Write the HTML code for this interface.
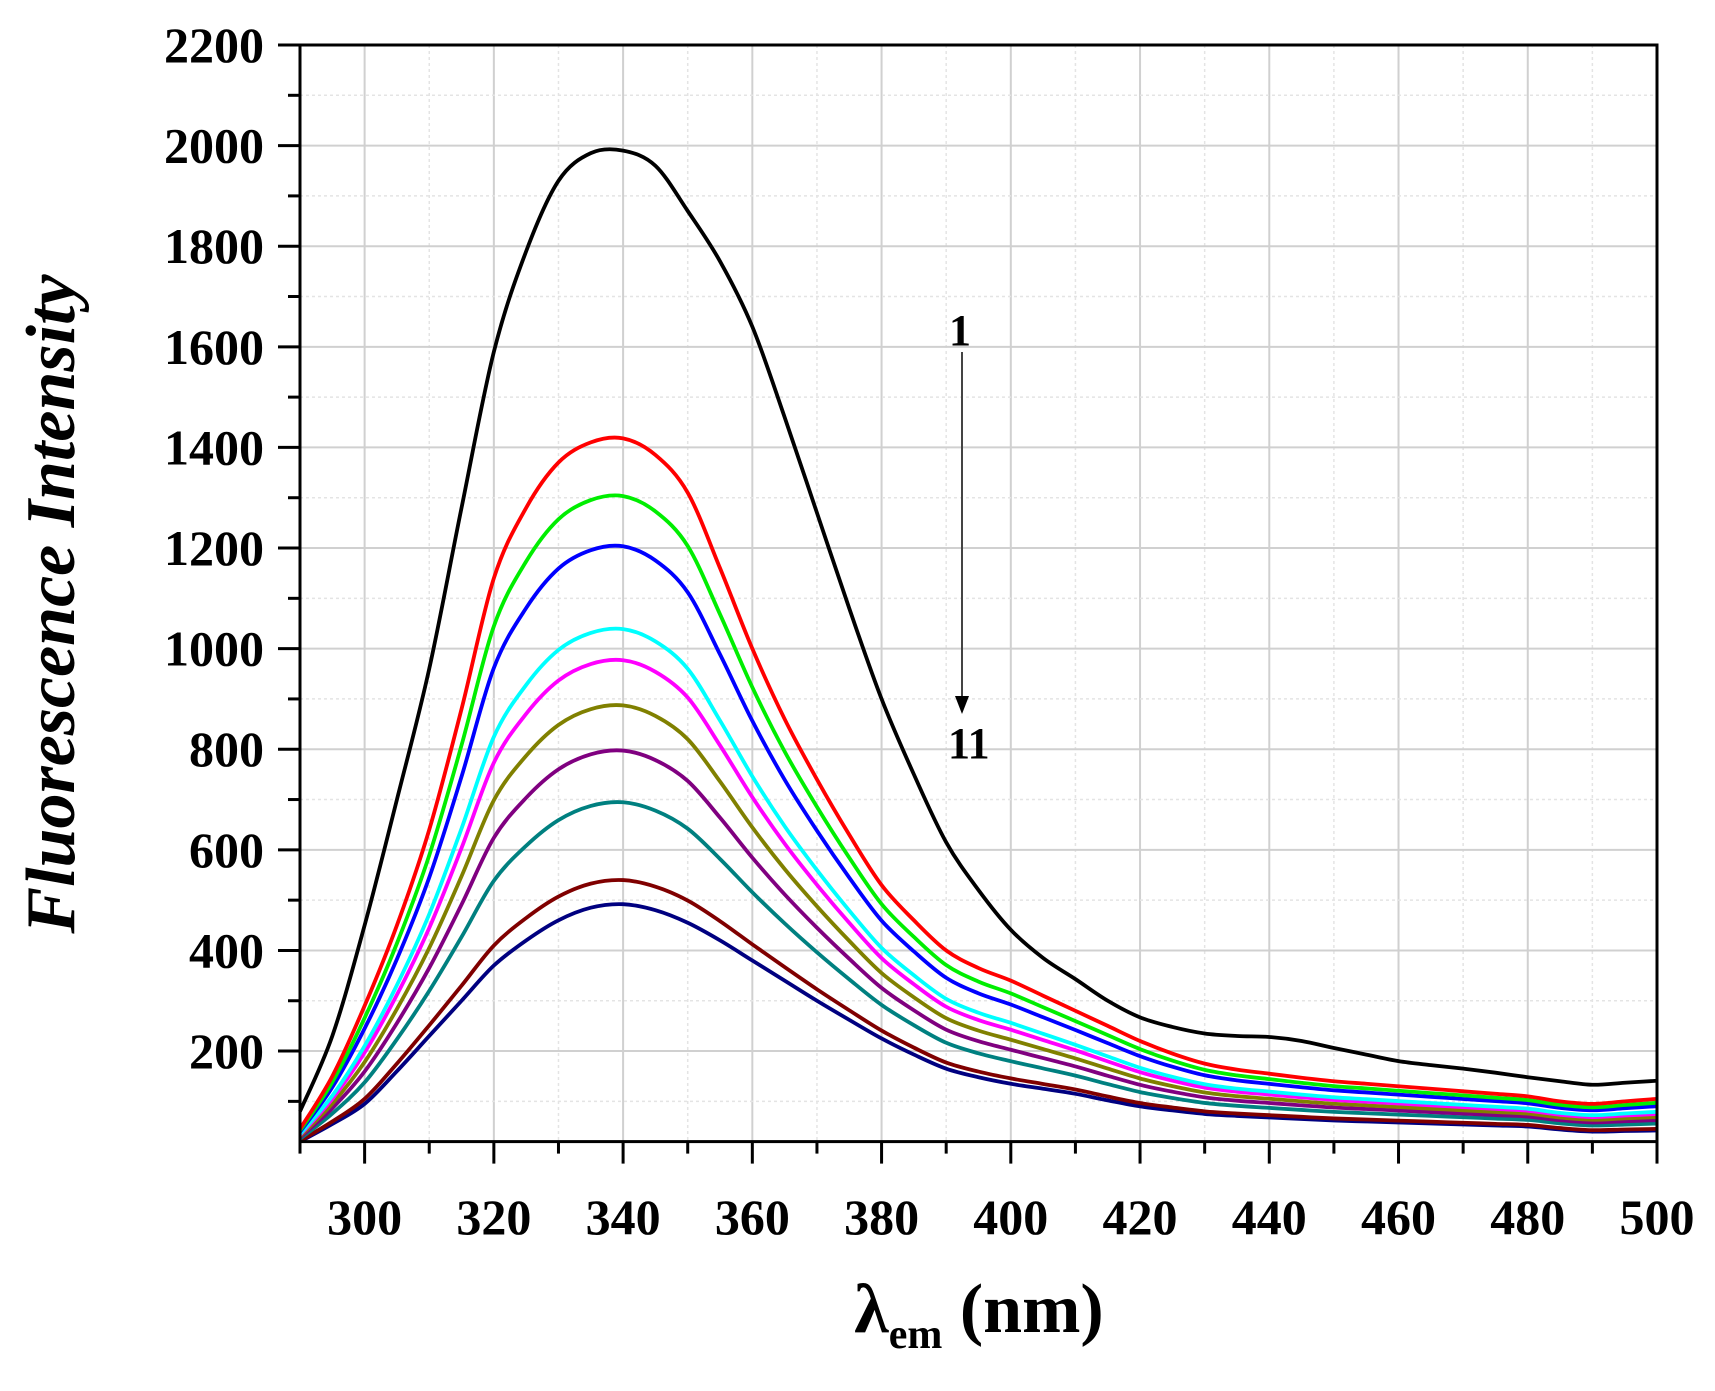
<!DOCTYPE html>
<html><head><meta charset="utf-8"><style>
html,body{margin:0;padding:0;background:#fff;}
svg{display:block;}
text{font-family:"Liberation Serif",serif;font-weight:bold;fill:#000;}
</style></head><body>
<svg id="s" width="1715" height="1391" viewBox="0 0 1715 1391" xmlns="http://www.w3.org/2000/svg">
<g id="grid"></g>
<g id="curves" fill="none" stroke-width="3.8" stroke-linejoin="round"></g>
<g id="axes"></g>
<line x1="962" y1="352" x2="962" y2="700" stroke="#444" stroke-width="2"/>
<polygon points="955,696 969,696 962,714" fill="#000"/>
<text x="960" y="345" font-size="44" text-anchor="middle">1</text>
<text x="948" y="758" font-size="44">11</text>
<text x="979" y="1332" font-size="70" text-anchor="middle">λ<tspan font-size="42" dy="16">em</tspan><tspan dy="-16"> (nm)</tspan></text>
<text transform="translate(74,604) rotate(-90)" font-size="70" font-style="italic" text-anchor="middle">Fluorescence Intensity</text>
</svg>
<script>
var L=300,R=1657,T=45,B=1141.6;
function X(v){return L+(v-290)*(R-L)/210;}
function Y(v){return T+(2200-v)*(B-T)/2180;}
var ns="http://www.w3.org/2000/svg";
function el(p,t,a){var e=document.createElementNS(ns,t);for(var k in a)e.setAttribute(k,a[k]);p.appendChild(e);return e;}
var g=document.getElementById('grid'),ax=document.getElementById('axes');
for(var x=300;x<=500;x+=10){var maj=x%20==0;el(g,'line',{x1:X(x),x2:X(x),y1:T,y2:B,stroke:maj?'#d0d0d0':'#e4e4e4','stroke-width':maj?2:1.5,'stroke-dasharray':maj?'':'3,3'});}
for(var y=100;y<=2100;y+=100){var maj=y%200==0;el(g,'line',{x1:L,x2:R,y1:Y(y),y2:Y(y),stroke:maj?'#d0d0d0':'#e4e4e4','stroke-width':maj?2:1.5,'stroke-dasharray':maj?'':'3,3'});}
el(ax,'rect',{x:L,y:T,width:R-L,height:B-T,fill:'none',stroke:'#000','stroke-width':3});
for(var x=300;x<=500;x+=10){var maj=x%20==0;el(ax,'line',{x1:X(x),x2:X(x),y1:B,y2:B+(maj?22:12),stroke:'#000','stroke-width':3});
 if(maj){var t=el(ax,'text',{x:X(x),y:1234,'font-size':50,'text-anchor':'middle'});t.textContent=x;}}
el(ax,'line',{x1:L,x2:L,y1:B,y2:B+12,stroke:'#000','stroke-width':3});
for(var y=100;y<=2200;y+=100){var maj=y%200==0;el(ax,'line',{x1:L-(maj?22:12),x2:L,y1:Y(y),y2:Y(y),stroke:'#000','stroke-width':3});
 if(maj){var t=el(ax,'text',{x:264,y:Y(y)+17,'font-size':50,'text-anchor':'end'});t.textContent=y;}}
var xs=[];for(var v=290;v<=500;v+=5)xs.push(v);
var blk=[80,230,450,700,960,1280,1590,1790,1930,1985,1990,1960,1870,1770,1640,1460,1270,1080,900,750,615,520,441,385,343,300,267,248,235,230,228,220,206,193,180,172,165,157,148,140,133,137,141];
var red=[45,150,290,450,640,880,1140,1280,1370,1410,1418,1385,1310,1160,1000,860,740,630,530,460,400,365,340,310,280,250,220,195,175,163,155,147,140,135,130,125,120,115,110,100,95,100,105];
var nav=[20,55,95,160,230,300,370,420,460,485,492,480,455,420,380,340,300,262,225,193,165,148,135,125,115,102,90,82,75,71,68,65,62,60,58,56,54,52,50,44,40,41,42];
function path(arr){var p=xs.map(function(x,i){return [X(x),Y(arr[i])];});
 var d='M'+p[0][0]+','+p[0][1];
 for(var i=0;i<p.length-1;i++){var p0=p[i-1]||p[i],p1=p[i],p2=p[i+1],p3=p[i+2]||p2;
  d+='C'+(p1[0]+(p2[0]-p0[0])/6)+','+(p1[1]+(p2[1]-p0[1])/6)+' '+(p2[0]-(p3[0]-p1[0])/6)+','+(p2[1]-(p3[1]-p1[1])/6)+' '+p2[0]+','+p2[1];}
 return d;}
var c=document.getElementById('curves');
var ser=[['#000',null],['#ff0000',1420],['#00ee00',1305],['#0000ff',1205],['#00ffff',1040],['#ff00ff',978],['#808000',888],['#800080',798],['#008080',695],['#800000',540],['#000080',492]];
for(var k=ser.length-1;k>=0;k--){var arr;
 if(k==0)arr=blk;else{var t=(ser[k][1]-492)/(1420-492);arr=red.map(function(v,i){return nav[i]+(v-nav[i])*t;});}
 el(c,'path',{d:path(arr),stroke:ser[k][0]});}
</script>
</body></html>
